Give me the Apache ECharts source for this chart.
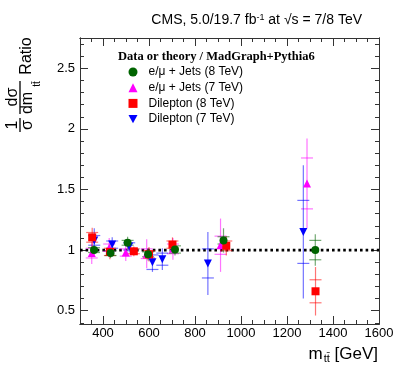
<!DOCTYPE html>
<html>
<head>
<meta charset="utf-8">
<script src="https://cdn.jsdelivr.net/npm/echarts@6/dist/echarts.min.js"></script>
<style>
  html, body { margin: 0; padding: 0; background: #fff; }
  #main { width: 399px; height: 383px; }
</style>
</head>
<body>
<div id="main"></div>
<script>
//----------------------------------= data =----------------------------------
// e/mu + jets, 8 TeV
var ljets8X    = [361, 433, 507, 596, 713, 924, 1323];
var ljets8Y    = [1.00, 0.975, 1.06, 0.965, 1.005, 1.08, 1.00];
var ljets8Stat = [0.02, 0.02, 0.02, 0.02, 0.03, 0.03, 0.08];
var ljets8Tot  = [0.04, 0.04, 0.05, 0.05, 0.05, 0.10, 0.13];
// e/mu + jets, 7 TeV
var ljets7X    = [351, 427, 499, 590, 704, 911, 1287];
var ljets7Y    = [0.975, 1.02, 0.98, 0.97, 1.01, 1.04, 1.55];
var ljets7Stat = [0.04, 0.03, 0.03, 0.04, 0.04, 0.075, 0.21];
var ljets7Tot  = [0.09, 0.08, 0.07, 0.12, 0.09, 0.22, 0.37];
// dilepton, 8 TeV
var dilep8X    = [353, 430, 534, 600, 702, 936, 1324];
var dilep8Y    = [1.105, 0.985, 0.99, 0.965, 1.045, 1.035, 0.66];
var dilep8Stat = [0.04, 0.03, 0.02, 0.03, 0.03, 0.04, 0.095];
var dilep8Tot  = [0.08, 0.06, 0.04, 0.06, 0.06, 0.08, 0.20];
// dilepton, 7 TeV
var dilep7X    = [362, 440, 514, 615, 658, 856, 1271];
var dilep7Y    = [1.08, 1.045, 1.03, 0.90, 0.925, 0.89, 1.15];
var dilep7Stat = [0.04, 0.03, 0.03, 0.06, 0.05, 0.12, 0.26];
var dilep7Tot  = [0.10, 0.06, 0.05, 0.08, 0.09, 0.26, 0.55];

// axis ticks
var xMajor = [400, 600, 800, 1000, 1200, 1400, 1600];
var xMinor = [];
for (var v = 350; v < 1600; v += 50) { if (v % 200 !== 0) xMinor.push(v); }
var yMajor = [0.5, 1, 1.5, 2, 2.5];
var yMinor = [];
for (var k = 4; k <= 27; k++) { if (k % 5 !== 0) yMinor.push(k / 10); }

var seriesNames = ['e/\u03bc + Jets (8 TeV)', 'e/\u03bc + Jets (7 TeV)', 'Dilepton (8 TeV)', 'Dilepton (7 TeV)'];

var FONT = 'Liberation Sans';
var downTri = 'path://M0,0 L10,0 L5,9 Z';

function rows(xs, ys, st, tot) {
  var out = [];
  for (var i = 0; i < xs.length; i++) out.push([xs[i], ys[i], st[i], tot[i]]);
  return out;
}

//----------------------------------= error bars =----------------------------------
function errSeries(data, color) {
  return {
    type: 'custom',
    silent: true,
    z: 2,
    data: data,
    renderItem: function (params, api) {
      var x = api.value(0), y = api.value(1), s = api.value(2), t = api.value(3);
      var top = api.coord([x, y + t]);
      var bot = api.coord([x, y - t]);
      var hi = api.coord([x, y + s]);
      var lo = api.coord([x, y - s]);
      var st = { stroke: color, lineWidth: 1.2, opacity: 0.55 };
      var w = 6;
      return {
        type: 'group',
        children: [
          { type: 'line', shape: { x1: top[0], y1: top[1], x2: bot[0], y2: bot[1] }, style: st },
          { type: 'line', shape: { x1: hi[0] - w, y1: hi[1], x2: hi[0] + w, y2: hi[1] }, style: st },
          { type: 'line', shape: { x1: lo[0] - w, y1: lo[1], x2: lo[0] + w, y2: lo[1] }, style: st }
        ]
      };
    }
  };
}

function markSeries(name, data, symbol, color, z) {
  return {
    name: name,
    type: 'scatter',
    symbol: symbol,
    symbolSize: 8,
    z: z,
    itemStyle: { color: color, opacity: 1 },
    data: data.map(function (d) { return [d[0], d[1]]; })
  };
}

var dL8 = rows(ljets8X, ljets8Y, ljets8Stat, ljets8Tot);
var dL7 = rows(ljets7X, ljets7Y, ljets7Stat, ljets7Tot);
var dD8 = rows(dilep8X, dilep8Y, dilep8Stat, dilep8Tot);
var dD7 = rows(dilep7X, dilep7Y, dilep7Stat, dilep7Tot);

var axisLineStyle = { color: '#333', width: 1 };

function xAx(pos, ticks, len, labels) {
  return {
    type: 'value', position: pos, min: 300, max: 1600,
    axisLine: { show: true, onZero: false, lineStyle: axisLineStyle },
    axisTick: { show: true, inside: true, length: len, customValues: ticks, lineStyle: axisLineStyle },
    axisLabel: labels ? { show: true, customValues: ticks, color: '#000', fontFamily: FONT, fontSize: 13, margin: 3,
                          formatter: function (val) { return String(val); } } : { show: false },
    splitLine: { show: false }
  };
}
function yAx(pos, ticks, len, labels) {
  return {
    type: 'value', position: pos, min: 0.39, max: 2.75,
    axisLine: { show: true, onZero: false, lineStyle: axisLineStyle },
    axisTick: { show: true, inside: true, length: len, customValues: ticks, lineStyle: axisLineStyle },
    axisLabel: labels ? { show: true, customValues: ticks, color: '#000', fontFamily: FONT, fontSize: 13, margin: 5,
                          formatter: function (val) { return String(val); } } : { show: false },
    splitLine: { show: false }
  };
}

var chart = echarts.init(document.getElementById('main'));
var option = {
  animation: false,
  backgroundColor: '#fff',
  grid: { left: 80, right: 20, top: 38, bottom: 59 },
  xAxis: [xAx('bottom', xMajor, 8, true), xAx('top', xMajor, 8, false), xAx('bottom', xMinor, 4, false), xAx('top', xMinor, 4, false)],
  yAxis: [yAx('left', yMajor, 8, true), yAx('right', yMajor, 8, false), yAx('left', yMinor, 4, false), yAx('right', yMinor, 4, false)],
  legend: {
    orient: 'vertical',
    left: 128.5, top: 65,
    padding: 0,
    itemWidth: 9, itemHeight: 9, itemGap: 1.7,
    data: [
      { name: seriesNames[0], icon: 'circle' },
      { name: seriesNames[1], icon: 'triangle' },
      { name: seriesNames[2], icon: 'rect' },
      { name: seriesNames[3], icon: downTri }
    ],
    textStyle: { fontFamily: FONT, fontSize: 12, color: '#000', lineHeight: 14, padding: [0, 0, 0, 6] },
    selectedMode: false
  },
  graphic: [
    { type: 'text', x: 362, y: 28, style: {
        text: 'CMS, 5.0/19.7 fb{sup|-1} at \u221as = 7/8 TeV', align: 'right', verticalAlign: 'bottom',
        font: '14px ' + FONT, fill: '#000',
        rich: { sup: { fontSize: 9, verticalAlign: 'top', padding: [0, 0, 6, 0], fontFamily: FONT } } } },
    { type: 'text', x: 118, y: 57, style: {
        text: 'Data or theory / MadGraph+Pythia6', verticalAlign: 'middle',
        font: 'bold 12.5px "Liberation Serif"', fill: '#000' } },
    { type: 'text', x: 378, y: 364, style: {
        text: 'm{sub|t\u0074\u0304} [GeV]', align: 'right', verticalAlign: 'bottom',
        font: '17px ' + FONT, fill: '#000',
        rich: { sub: { fontSize: 11, padding: [8, 0, 0, 1], fontFamily: FONT } } } },
    // y axis title, rotated
    { type: 'text', x: 27, y: 56, rotation: Math.PI / 2, style: { text: 'Ratio', align: 'center', verticalAlign: 'middle', font: '16px ' + FONT, fill: '#000' } },
    { type: 'text', x: 13, y: 97, rotation: Math.PI / 2, style: { text: 'd\u03c3', align: 'center', verticalAlign: 'middle', font: '16px ' + FONT, fill: '#000' } },
    { type: 'line', shape: { x1: 20, y1: 81, x2: 20, y2: 114 }, style: { stroke: '#000', lineWidth: 1.3 } },
    { type: 'text', x: 28, y: 103, rotation: Math.PI / 2, style: { text: 'dm', align: 'center', verticalAlign: 'middle', font: '16px ' + FONT, fill: '#000' } },
    { type: 'text', x: 37, y: 84, rotation: Math.PI / 2, style: { text: 't\u0074\u0304', align: 'center', verticalAlign: 'middle', font: '10px ' + FONT, fill: '#000' } },
    { type: 'text', x: 13, y: 125, rotation: Math.PI / 2, style: { text: '1', align: 'center', verticalAlign: 'middle', font: '16px ' + FONT, fill: '#000' } },
    { type: 'line', shape: { x1: 20, y1: 118, x2: 20, y2: 132 }, style: { stroke: '#000', lineWidth: 1.3 } },
    { type: 'text', x: 28, y: 125, rotation: Math.PI / 2, style: { text: '\u03c3', align: 'center', verticalAlign: 'middle', font: '16px ' + FONT, fill: '#000' } }
  ],
  series: [
    {
      type: 'line', silent: true, z: 1, symbol: 'none',
      data: [[300, 1], [1600, 1]],
      lineStyle: { color: '#000', width: 2.6, type: [2.6, 3] }
    },
    errSeries(dL7, '#ff00ff'),
    errSeries(dD7, '#0000ff'),
    errSeries(dD8, '#ff0000'),
    errSeries(dL8, '#006400'),
    markSeries(seriesNames[1], dL7, 'triangle', '#ff00ff', 3),
    markSeries(seriesNames[3], dD7, downTri, '#0000ff', 4),
    markSeries(seriesNames[2], dD8, 'rect', '#ff0000', 5),
    markSeries(seriesNames[0], dL8, 'circle', '#006400', 6)
  ]
};
chart.setOption(option);
</script>
</body>
</html>
